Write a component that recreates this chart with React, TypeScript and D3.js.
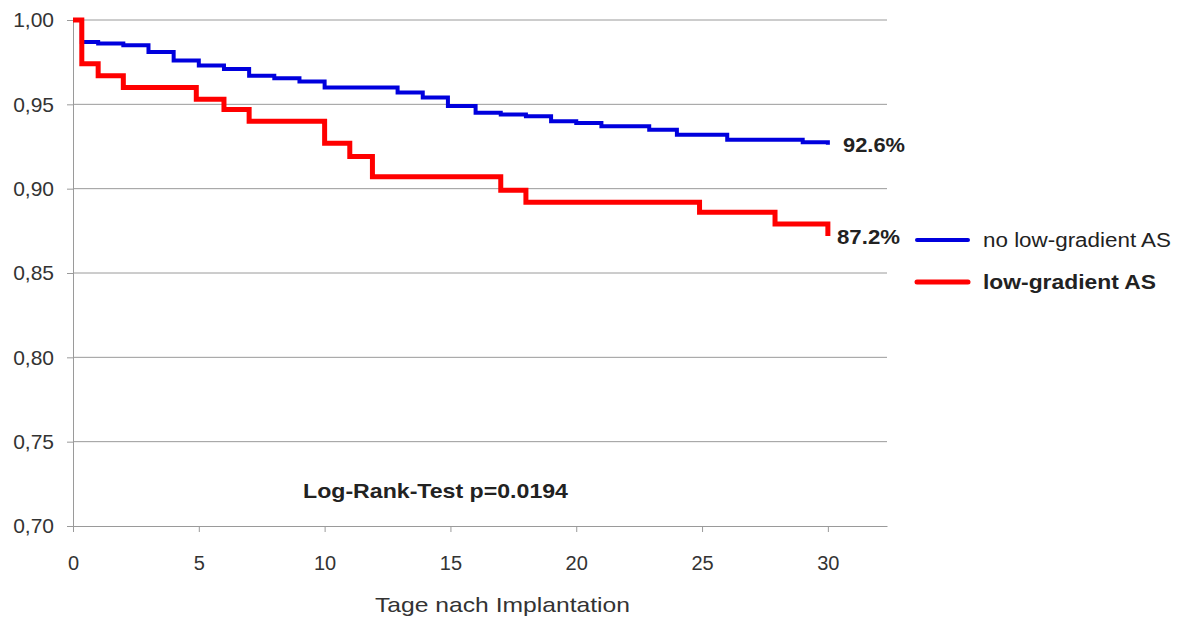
import React, { useEffect, useRef } from 'react';
import * as d3 from 'd3';

// Kaplan-Meier steps (day, survival)
const blueTimes = [0, 0.35, 1, 2, 3, 4, 5, 6, 7, 8, 9, 10, 12.9, 13.9, 14.9, 16, 17, 18, 19, 20, 21, 22.9, 24, 26, 29, 30];
const blueValues = [1.0, 0.987, 0.986, 0.985, 0.981, 0.976, 0.973, 0.971, 0.967, 0.9655, 0.9635, 0.960, 0.957, 0.954, 0.949, 0.945, 0.944, 0.943, 0.940, 0.939, 0.937, 0.935, 0.932, 0.929, 0.9275, 0.926];

const redTimes = [0, 0.35, 1, 2, 4.9, 6, 7, 10, 11, 11.9, 17, 18, 24.9, 27.9, 30];
const redValues = [1.0, 0.974, 0.967, 0.960, 0.953, 0.947, 0.940, 0.927, 0.919, 0.907, 0.899, 0.892, 0.886, 0.879, 0.872];

const xTicks = [0, 5, 10, 15, 20, 25, 30];
const yTicks = [0.70, 0.75, 0.80, 0.85, 0.90, 0.95, 1.00];

const seriesNames = ['no low-gradient AS', 'low-gradient AS'];
const endLabels = ['92.6%', '87.2%'];
const pValueText = 'Log-Rank-Test p=0.0194';
const xTitle = 'Tage nach Implantation';

const font = '"Liberation Sans", Arial, sans-serif';

const KMChart = () => {
  const ref = useRef<SVGSVGElement>(null);

  useEffect(() => {
    if (!ref.current) return;
    const svg = d3.select(ref.current);
    svg.selectAll('*').remove();

    const left = 73, right = 887, top = 20, bottom = 526;

    const x = d3.scaleLinear().domain([0, 32.35]).range([left, right]);
    const y = d3.scaleLinear().domain([0.7, 1.0]).range([bottom, top]);

    // horizontal grid lines
    svg.append('g')
      .selectAll('line')
      .data(yTicks.slice(1))
      .enter().append('line')
      .attr('x1', left).attr('x2', right)
      .attr('y1', d => y(d)).attr('y2', d => y(d))
      .attr('stroke', '#9a9a9a').attr('stroke-width', 1);

    // y axis
    const yAxis = svg.append('g')
      .attr('transform', `translate(${left},0)`)
      .call(d3.axisLeft(y).tickValues(yTicks).tickSize(6).tickPadding(13)
        .tickFormat(d => d3.format('.2f')(d as number).replace('.', ',')));
    yAxis.select('.domain').attr('stroke', '#9a9a9a');
    yAxis.selectAll('.tick line').attr('stroke', '#9a9a9a');
    yAxis.selectAll('.tick text')
      .attr('font-family', font).attr('font-size', 21).attr('fill', '#333');

    // x axis
    const xAxis = svg.append('g')
      .attr('transform', `translate(0,${bottom})`)
      .call(d3.axisBottom(x).tickValues(xTicks).tickSize(6).tickPadding(24).tickSizeOuter(0));
    xAxis.select('.domain').attr('stroke', '#9a9a9a');
    xAxis.selectAll('.tick line').attr('stroke', '#9a9a9a');
    xAxis.selectAll('.tick text')
      .attr('font-family', font).attr('font-size', 20).attr('fill', '#333');

    const line = d3.line<[number, number]>()
      .x(d => x(d[0]))
      .y(d => y(d[1]))
      .curve(d3.curveStepAfter);

    const blue = blueTimes.map((t, i) => [t, blueValues[i]] as [number, number]);
    const red = redTimes.map((t, i) => [t, redValues[i]] as [number, number]);

    svg.append('path').datum(blue).attr('d', line)
      .attr('fill', 'none').attr('stroke', '#0000dd').attr('stroke-width', 4);
    svg.append('path').datum(red).attr('d', line)
      .attr('fill', 'none').attr('stroke', '#ff0000').attr('stroke-width', 5);

    // end labels
    svg.append('text')
      .attr('x', 843).attr('y', 152)
      .attr('textLength', 62).attr('lengthAdjust', 'spacingAndGlyphs')
      .attr('font-family', font).attr('font-size', 20).attr('font-weight', 'bold').attr('fill', '#222')
      .text(endLabels[0]);
    svg.append('text')
      .attr('x', 837).attr('y', 244)
      .attr('textLength', 63).attr('lengthAdjust', 'spacingAndGlyphs')
      .attr('font-family', font).attr('font-size', 20).attr('font-weight', 'bold').attr('fill', '#222')
      .text(endLabels[1]);

    // legend
    const legend = [
      { name: seriesNames[0], color: '#0000dd', width: 4, weight: 'normal', yPos: 240, len: 188 },
      { name: seriesNames[1], color: '#ff0000', width: 5, weight: 'bold', yPos: 282, len: 173 },
    ];
    const lg = svg.append('g');
    lg.selectAll('line')
      .data(legend)
      .enter().append('line')
      .attr('x1', 917).attr('x2', 968)
      .attr('y1', d => d.yPos).attr('y2', d => d.yPos)
      .attr('stroke', d => d.color).attr('stroke-width', d => d.width)
      .attr('stroke-linecap', 'round');
    lg.selectAll('text')
      .data(legend)
      .enter().append('text')
      .attr('x', 983).attr('y', d => d.yPos + 7)
      .attr('textLength', d => d.len).attr('lengthAdjust', 'spacingAndGlyphs')
      .attr('font-family', font).attr('font-size', 20).attr('font-weight', d => d.weight)
      .attr('fill', '#222')
      .text(d => d.name);

    // p value
    svg.append('text')
      .attr('x', 303).attr('y', 498)
      .attr('textLength', 265).attr('lengthAdjust', 'spacingAndGlyphs')
      .attr('font-family', font).attr('font-size', 21).attr('font-weight', 'bold').attr('fill', '#222')
      .text(pValueText);

    // x axis title
    svg.append('text')
      .attr('x', 375).attr('y', 612)
      .attr('textLength', 255).attr('lengthAdjust', 'spacingAndGlyphs')
      .attr('font-family', font).attr('font-size', 21).attr('fill', '#333')
      .text(xTitle);
  }, []);

  return (
    <svg ref={ref} width={1179} height={618}
      style={{ position: 'fixed', top: 0, left: 0, background: '#fff' }} />
  );
};

export default function App() {
  return <KMChart />;
}
